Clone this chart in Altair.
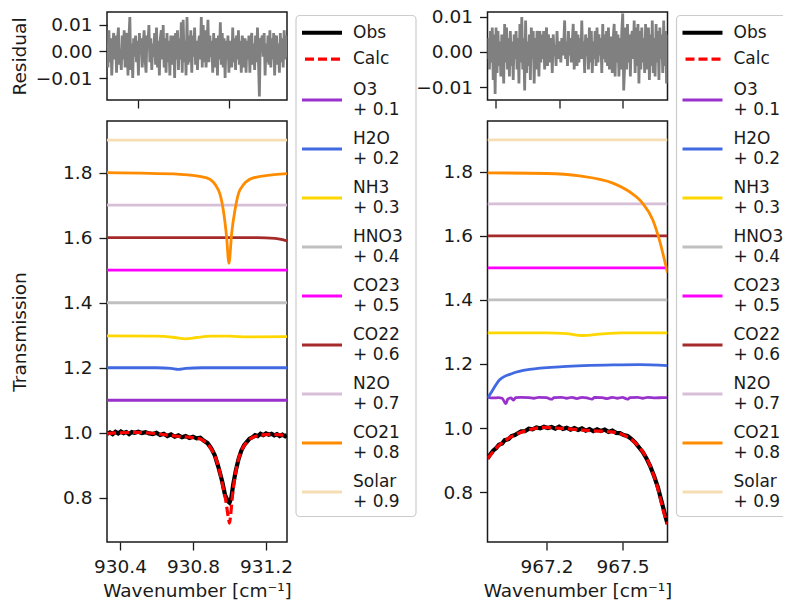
import altair as alt
import numpy as np
import pandas as pd

FONT = "DejaVu Sans"
INK = "#1a1a1a"

# ---------------- shared series definitions ----------------
species = ["O3", "H2O", "NH3", "HNO3", "CO23", "CO22", "N2O", "CO21", "Solar"]
offsets = [0.1, 0.2, 0.3, 0.4, 0.5, 0.6, 0.7, 0.8, 0.9]
species_colors = ["#9932CC", "#4169E1", "#FFD700", "#C0C0C0", "#FF00FF",
                  "#A52A2A", "#D8BFD8", "#FF8C00", "#F5DEB3"]

# ---------------- left window (930 cm-1) ----------------
left_xlim = [930.329, 931.315]
left_xticks = [930.4, 930.8, 931.2]
left_res_xticks = [930.5, 931.0]
left_ylim = [0.664, 1.959]
left_res_ylim = [-0.0183, 0.0149]

left_res_milli = [3, -6, 8, -4, 5, -9, 2, 7, -3, 6, -8, 4, 9, -5, 1, -7, 6, -3, 8,
                  -6, 3, 7, -9, 5, 13, -7, 3, -10, 5, -2, 6, -4, 4, -9, 7, -1, 5, -6,
                  3, 8, -3, -8, 6, 2, 10, -4, 5, -7, 3, -2, 7, -5, 9, -6, 4, -9, 5,
                  8, -3, 10, -6, 5, -8, 7, -4, 4, -9, 6, -5, 2, 6, -10, 7, -3, 8, -7,
                  5, -3, 11, -8, 12, -4, 4, -9, 13, -5, 6, -4, 8, -8, 6, -2, 9, -5, 4,
                  -7, 3, 6, -3, 13, -6, 10, -4, 8, -6, 2, 12, -4, 6, -2, 4, -8, 7, -6,
                  5, 3, -9, 6, -3, 11, -5, 7, -6, 5, -10, 4, -3, 6, -8, 4, 3, -6, 9,
                  -4, 5, -7, 6, -3, 8, -5, 4, -8, 6, 3, -6, 5, -8, 4, -3, 6, -8, 4,
                  7, -5, 3, -7, 6, -4, 9, -3, -17, 5, 4, 6, -2, 7, -9, 3, -4, 6, -5,
                  8, -6, 5, -3, 7, -9, 4, 6, -5, 3, -8, 7, -4, 5, -6, 8, -3, 6, -2]

left_obs_wn = [930.33, 930.345, 930.36, 930.375, 930.39, 930.405, 930.42, 930.435, 930.45,
               930.465, 930.48, 930.5, 930.52, 930.54, 930.56, 930.58, 930.6, 930.62,
               930.64, 930.66, 930.68, 930.7, 930.72, 930.74, 930.76, 930.78, 930.8,
               930.82, 930.84, 930.86, 930.88, 930.9, 930.92, 930.94, 930.96, 930.975,
               930.99, 931.0, 931.01, 931.02, 931.035, 931.05, 931.065, 931.08, 931.095,
               931.11, 931.125, 931.14, 931.155, 931.17, 931.185, 931.2, 931.215, 931.23,
               931.245, 931.26, 931.275, 931.29, 931.305, 931.315]
left_obs_tr = [0.997, 1.001, 0.996, 1.003, 0.998, 1.004, 0.999, 1.002, 0.996,
               1.002, 1.0, 1.003, 0.999, 1.002, 0.998, 0.996, 1.0, 0.993,
               0.997, 0.99, 0.995, 0.988, 0.992, 0.986, 0.99, 0.984, 0.988,
               0.983, 0.985, 0.975, 0.968, 0.952, 0.93, 0.893, 0.85, 0.81,
               0.79, 0.785, 0.80, 0.84, 0.885, 0.92, 0.945, 0.962, 0.972,
               0.982, 0.986, 0.993, 0.99, 0.997, 0.993, 0.998, 0.994, 0.997,
               0.992, 0.996, 0.99, 0.994, 0.989, 0.993]

left_calc_wn = [930.329, 930.4, 930.5, 930.6, 930.7, 930.8, 930.85, 930.88, 930.91, 930.94,
                930.96, 930.98, 930.995, 931.0, 931.005, 931.015, 931.03, 931.05, 931.07,
                931.1, 931.15, 931.22, 931.315]
left_calc_tr = [0.998, 1.0, 1.001, 0.997, 0.99, 0.985, 0.978, 0.965, 0.94, 0.895,
                0.845, 0.79, 0.735, 0.722, 0.74, 0.8, 0.865, 0.92, 0.95,
                0.975, 0.99, 0.995, 0.992]

left_flat_wn = [930.329, 931.315]
left_O3_wn, left_O3_tr = left_flat_wn, [1.1, 1.1]
left_H2O_wn = [930.329, 930.6, 930.68, 930.72, 930.76, 930.85, 931.315]
left_H2O_tr = [1.2, 1.2, 1.198, 1.195, 1.198, 1.2, 1.2]
left_NH3_wn = [930.329, 930.6, 930.7, 930.76, 930.82, 930.9, 931.0, 931.1, 931.315]
left_NH3_tr = [1.298, 1.297, 1.293, 1.289, 1.293, 1.297, 1.297, 1.295, 1.296]
left_HNO3_wn, left_HNO3_tr = left_flat_wn, [1.4, 1.4]
left_CO23_wn, left_CO23_tr = left_flat_wn, [1.5, 1.5]
left_CO22_wn = [930.329, 931.15, 931.25, 931.29, 931.315]
left_CO22_tr = [1.6, 1.6, 1.598, 1.594, 1.59]
left_N2O_wn, left_N2O_tr = left_flat_wn, [1.7, 1.7]
left_CO21_wn = [930.329, 930.73, 930.875, 930.939, 930.966, 930.984, 930.997, 931.012,
                931.03, 931.057, 931.13, 931.315]
left_CO21_tr = [1.8, 1.795, 1.784, 1.747, 1.685, 1.603, 1.521, 1.614,
                1.685, 1.747, 1.784, 1.797]
left_Solar_wn, left_Solar_tr = left_flat_wn, [1.9, 1.9]

# ---------------- right window (967 cm-1) ----------------
right_xlim = [966.967, 967.678]
right_xticks = [967.2, 967.5]
right_res_xticks = [967.0, 967.25, 967.5]
right_ylim = [0.644, 1.959]
right_res_ylim = [-0.0137, 0.0114]

right_res_milli = [-2, 4, -5, 6, -3, 7, -8, 5, -12, 7, -6, 6, -4, 3, -7, 5, 2, -9, 8,
                   -3, 7, -5, 4, -7, 6, -4, 3, -8, 5, -2, 6, -5, 4, -9, 8, -3, 10, -5,
                   4, -11, 9, -6, 3, -4, 5, -8, 7, -2, 6, -9, 4, -5, 6, 2, -7, 6, -3,
                   5, -2, 6, -5, 3, 7, -4, 5, 1, -3, 4, -6, 5, -1, 2, -4, 6, -2, 3,
                   1, -3, 4, -1, 2, 9, -2, 3, -4, 6, -1, 4, -3, 3, 8, -5, 2, 6, -4,
                   5, -3, 4, -2, 9, -2, 3, -6, 5, -1, 4, -5, 7, -3, 6, -6, 3, -2, 6,
                   -4, 7, -3, 5, -1, 4, -6, 8, -2, 5, -3, 6, -4, 7, -5, 4, 4, -6, 4,
                   8, -7, 6, -3, 5, -7, 4, -5, 6, 11, -11, -4, 7, -5, 8, -3, 5, -7, 4,
                   6, -2, 9, -6, 7, -4, 8, -9, 6, -5, 7, -3, 4, -6, 8, -5, 3, 7, -8,
                   5, -4, 9, -6, 4, -7, 8, -3, 6, -8, 7, -2, 5, -6, 9, -4, 6, -9, 5]

right_obs_wn = [966.967, 966.98, 966.99, 967.0, 967.012, 967.025, 967.035, 967.05, 967.062,
                967.075, 967.09, 967.1, 967.115, 967.13, 967.145, 967.16, 967.175, 967.19,
                967.205, 967.22, 967.235, 967.25, 967.265, 967.28, 967.295, 967.31, 967.325,
                967.34, 967.355, 967.37, 967.385, 967.4, 967.415, 967.43, 967.445, 967.46,
                967.475, 967.49, 967.505, 967.52, 967.535, 967.55, 967.565, 967.58, 967.595,
                967.61, 967.625, 967.64, 967.655, 967.668, 967.678]
right_obs_tr = [0.905, 0.92, 0.93, 0.936, 0.948, 0.952, 0.962, 0.965, 0.975,
                0.978, 0.985, 0.99, 0.99, 0.998, 0.996, 1.002, 0.999, 1.004,
                1.0, 1.003, 0.998, 1.004, 0.997, 1.001, 0.995, 1.0, 0.994,
                0.999, 0.992, 0.997, 0.99, 0.996, 0.991, 0.995, 0.988, 0.992,
                0.985, 0.984, 0.978, 0.975, 0.966, 0.955, 0.94, 0.925, 0.905,
                0.88, 0.85, 0.815, 0.77, 0.73, 0.70]

right_calc_wn = [966.967, 967.006, 967.059, 967.125, 967.191, 967.256, 967.322, 967.389,
                 967.455, 967.508, 967.56, 967.6, 967.638, 967.665, 967.678]
right_calc_tr = [0.904, 0.941, 0.972, 0.993, 1.002, 0.999, 0.995, 0.991,
                 0.988, 0.977, 0.946, 0.899, 0.816, 0.732, 0.70]

right_flat_wn = [966.967, 967.678]
right_O3_wn = [966.967, 966.99, 967.01, 967.025, 967.035, 967.04, 967.047, 967.06, 967.07,
               967.078, 967.1, 967.13, 967.15, 967.17, 967.2, 967.22, 967.23, 967.26,
               967.28, 967.3, 967.32, 967.34, 967.36, 967.38, 967.39, 967.42, 967.44,
               967.46, 967.48, 967.5, 967.52, 967.53, 967.56, 967.58, 967.6, 967.63,
               967.66, 967.678]
right_O3_tr = [1.096, 1.094, 1.095, 1.093, 1.08, 1.076, 1.09, 1.094, 1.087,
               1.095, 1.096, 1.095, 1.093, 1.096, 1.095, 1.09, 1.095, 1.096,
               1.093, 1.096, 1.092, 1.096, 1.094, 1.09, 1.096, 1.095, 1.092,
               1.096, 1.093, 1.096, 1.09, 1.095, 1.096, 1.093, 1.096, 1.094,
               1.095, 1.095]
right_H2O_wn = [966.967, 966.975, 967.014, 967.067, 967.133, 967.264, 967.462, 967.567, 967.678]
right_H2O_tr = [1.095, 1.103, 1.15, 1.171, 1.183, 1.1916, 1.197, 1.198, 1.195]
right_NH3_wn = [966.967, 967.2, 967.28, 967.34, 967.42, 967.5, 967.678]
right_NH3_tr = [1.297, 1.297, 1.295, 1.289, 1.294, 1.297, 1.297]
right_HNO3_wn, right_HNO3_tr = right_flat_wn, [1.4, 1.4]
right_CO23_wn, right_CO23_tr = right_flat_wn, [1.5, 1.5]
right_CO22_wn, right_CO22_tr = right_flat_wn, [1.6, 1.6]
right_N2O_wn, right_N2O_tr = right_flat_wn, [1.7, 1.7]
right_CO21_wn = [966.967, 967.199, 967.33, 967.462, 967.528, 967.58, 967.62, 967.646,
                 967.666, 967.678]
right_CO21_tr = [1.797, 1.795, 1.7875, 1.765, 1.738, 1.702, 1.65, 1.5875, 1.525, 1.485]
right_Solar_wn, right_Solar_tr = right_flat_wn, [1.9, 1.9]

left_species_data = [(left_O3_wn, left_O3_tr), (left_H2O_wn, left_H2O_tr),
                     (left_NH3_wn, left_NH3_tr), (left_HNO3_wn, left_HNO3_tr),
                     (left_CO23_wn, left_CO23_tr), (left_CO22_wn, left_CO22_tr),
                     (left_N2O_wn, left_N2O_tr), (left_CO21_wn, left_CO21_tr),
                     (left_Solar_wn, left_Solar_tr)]
right_species_data = [(right_O3_wn, right_O3_tr), (right_H2O_wn, right_H2O_tr),
                      (right_NH3_wn, right_NH3_tr), (right_HNO3_wn, right_HNO3_tr),
                      (right_CO23_wn, right_CO23_tr), (right_CO22_wn, right_CO22_tr),
                      (right_N2O_wn, right_N2O_tr), (right_CO21_wn, right_CO21_tr),
                      (right_Solar_wn, right_Solar_tr)]

# ---------------- layout constants ----------------
PW = 180          # plot width
RH = 88           # residual panel height
MH = 421          # main panel height
VGAP = 21
LEG_X0 = 189      # legend frame left, relative to main view
LEG_W = 120
LEG_TOP = -105.5  # legend frame top, relative to main view top
LEG_H = 501
LINE_H = 20.5
TITLE_X = -82
FS = 18.5
LEG_FS = 17
BORDER = "#cccccc"
SVG_W = 775       # drawing surface kept inside the page (overflow is clipped)
SVG_H = 593
PAD_L, PAD_T = 99, 4

legend_labels = ["Obs", "Calc"] + [f"{s}\n+ {o}" for s, o in zip(species, offsets)]
legend_colors = ["black", "red"] + species_colors


def legend_rows(labels):
    ys, y, prev = [], 17.2, None
    steps = {(1, 1): 26.5, (1, 2): 40.7, (2, 2): 49.0, (2, 1): 40.7}
    for lab in labels:
        n = lab.count("\n") + 1
        if prev is not None:
            y += steps[(prev, n)]
        ys.append(y)
        prev = n
    return ys


def xy_df(wn, tr):
    return pd.DataFrame({"wn": wn, "tr": tr})


def one():
    return pd.DataFrame({"k": [0]})


def residual_panel(xlim, xticks, ylim, res_milli, show_title):
    wn = np.linspace(xlim[0], xlim[1], len(res_milli))
    df = pd.DataFrame({"wn": wn, "res": np.array(res_milli) * 1e-3})
    yaxis = alt.Axis(values=[-0.01, 0.0, 0.01], format=".2f",
                     title="Residual" if show_title else None,
                     titleX=TITLE_X, titleBaseline="alphabetic")
    return alt.Chart(df).mark_line(color="#808080", strokeWidth=2.8, clip=True).encode(
        x=alt.X("wn:Q", scale=alt.Scale(domain=xlim, nice=False, zero=False),
                axis=alt.Axis(values=xticks, labels=False, title=None)),
        y=alt.Y("res:Q", scale=alt.Scale(domain=ylim, nice=False, zero=False), axis=yaxis),
    ).properties(width=PW, height=RH)


def main_panel(xlim, xticks, ylim, species_data, obs, calc, show_title):
    xs = alt.Scale(domain=xlim, nice=False, zero=False)
    ys = alt.Scale(domain=ylim, nice=False, zero=False)
    xaxis = alt.Axis(values=xticks, format=".1f", title="Wavenumber [cm⁻¹]", titlePadding=6)
    yaxis = alt.Axis(values=[0.8, 1.0, 1.2, 1.4, 1.6, 1.8], format=".1f",
                     title="Transmission" if show_title else None,
                     titleX=TITLE_X, titleBaseline="alphabetic")
    X = alt.X("wn:Q", scale=xs, axis=xaxis)
    Y = alt.Y("tr:Q", scale=ys, axis=yaxis)
    layers = [
        alt.Chart(xy_df(*obs)).mark_line(color="black", strokeWidth=4.2, clip=True).encode(x=X, y=Y),
        alt.Chart(xy_df(*calc)).mark_line(color="red", strokeWidth=3.2, strokeDash=[9, 4],
                                          interpolate="monotone", clip=True).encode(x=X, y=Y),
    ]
    for (wn, tr), col in zip(species_data, species_colors):
        layers.append(alt.Chart(xy_df(wn, tr)).mark_line(
            color=col, strokeWidth=2.8, interpolate="monotone", clip=True).encode(x=X, y=Y))
    data_layer = alt.layer(*layers)

    # legend
    leg = pd.DataFrame({"label": legend_labels, "color": legend_colors,
                        "cy": legend_rows(legend_labels)})
    nlines = leg["label"].str.count("\n") + 1
    leg["ty"] = leg["cy"] - (nlines - 1) * LINE_H / 2
    leg["lw"] = [4.0] + [3.0] * (len(leg) - 1)
    ly = alt.Scale(domain=[0, LEG_H], range=[LEG_TOP, LEG_TOP + LEG_H])
    frame = alt.Chart(one()).mark_rect(
        fill="white", fillOpacity=0.8, stroke=BORDER, strokeWidth=1.2, cornerRadius=4
    ).encode(x=alt.value(LEG_X0), x2=alt.value(LEG_X0 + LEG_W),
             y=alt.value(LEG_TOP), y2=alt.value(LEG_TOP + LEG_H))
    solid = alt.Chart(leg).transform_filter(alt.datum.label != "Calc").mark_rule().encode(
        x=alt.value(LEG_X0 + 6), x2=alt.value(LEG_X0 + 46),
        y=alt.Y("cy:Q", scale=ly, axis=None),
        color=alt.Color("color:N", scale=None),
        strokeWidth=alt.StrokeWidth("lw:Q", scale=None))
    dashed = alt.Chart(leg).transform_filter(alt.datum.label == "Calc").mark_rule(
        strokeDash=[9, 4], strokeWidth=3.2).encode(
        x=alt.value(LEG_X0 + 9), x2=alt.value(LEG_X0 + 46),
        y=alt.Y("cy:Q", scale=ly, axis=None),
        color=alt.Color("color:N", scale=None))
    texts = alt.Chart(leg).mark_text(align="left", baseline="middle", lineBreak="\n",
                                     font=FONT, fontSize=LEG_FS, lineHeight=LINE_H,
                                     color=INK).encode(
        x=alt.value(LEG_X0 + 57), y=alt.Y("ty:Q", scale=ly, axis=None), text="label:N")
    legend_layer = alt.layer(frame, solid, dashed, texts)

    return alt.layer(data_layer, legend_layer).resolve_scale(y="independent").properties(
        width=PW, height=MH)


resL = residual_panel(left_xlim, left_res_xticks, left_res_ylim, left_res_milli, True)
resR = residual_panel(right_xlim, right_res_xticks, right_res_ylim, right_res_milli, False)
mainL = main_panel(left_xlim, left_xticks, left_ylim, left_species_data,
                   (left_obs_wn, left_obs_tr), (left_calc_wn, left_calc_tr), True)
mainR = main_panel(right_xlim, right_xticks, right_ylim, right_species_data,
                   (right_obs_wn, right_obs_tr), (right_calc_wn, right_calc_tr), False)

colL = alt.vconcat(resL, mainL, spacing=VGAP, bounds="flush")
colR = alt.vconcat(resR, mainR, spacing=VGAP, bounds="flush")

chart = alt.hconcat(colL, colR, spacing=-3.5).properties(
    autosize=alt.AutoSizeParams(type="none"),
    padding={"left": PAD_L, "top": PAD_T, "right": SVG_W - PAD_L, "bottom": SVG_H - PAD_T},
    background="white",
).configure_view(
    stroke=INK, strokeWidth=1.5
).configure_axis(
    domain=False, grid=False, tickColor=INK, tickWidth=1.3, tickSize=8,
    labelFont=FONT, labelFontSize=FS, labelColor=INK, labelPadding=7,
    titleFont=FONT, titleFontSize=FS, titleFontWeight="normal", titleColor=INK,
)

chart.save("out.html", embed_options={"renderer": "svg", "actions": False})
